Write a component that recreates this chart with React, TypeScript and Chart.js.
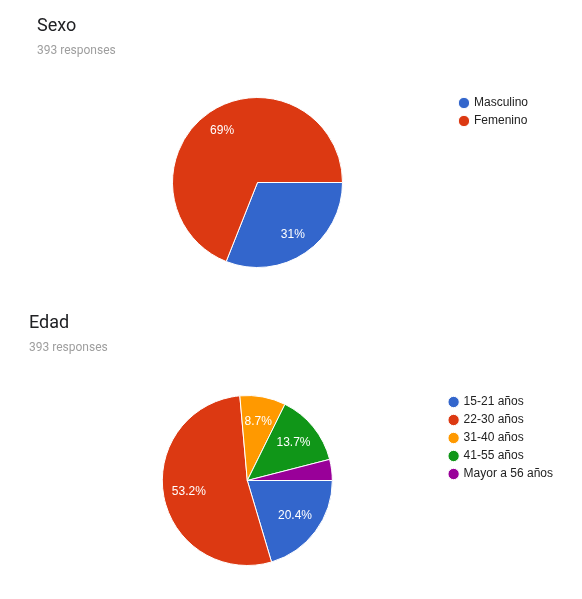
import { useEffect, useRef } from "react";
import { Chart, registerables } from "chart.js";

Chart.register(...registerables);

const responses = 393;

const sexoLabels = ["Masculino", "Femenino"];
const sexoValues = [31, 69];

const edadLabels = ["15-21 años", "22-30 años", "31-40 años", "41-55 años", "Mayor a 56 años"];
const edadValues = [20.4, 53.2, 8.7, 13.7, 4.0];

const palette = ["#3366cc", "#dc3912", "#ff9900", "#109618", "#990099"];

const TITLE_FONT = "Roboto, Arial, sans-serif";
const CHART_FONT = "Arial, 'Liberation Sans', sans-serif";

// percentages inside slices, like google charts
const sliceLabels = {
  id: "sliceLabels",
  afterDatasetsDraw(chart: any, _args: any, opts: any) {
    const ctx = chart.ctx;
    const meta = chart.getDatasetMeta(0);
    const data = chart.data.datasets[0].data as number[];
    const total = data.reduce((a, b) => a + b, 0);
    ctx.save();
    ctx.fillStyle = "#ffffff";
    ctx.font = `12px ${CHART_FONT}`;
    ctx.textAlign = "center";
    ctx.textBaseline = "middle";
    meta.data.forEach((arc: any, i: number) => {
      const frac = data[i] / total;
      if (frac < 0.05) return;
      const { x, y, startAngle, endAngle, outerRadius } = arc.getProps(
        ["x", "y", "startAngle", "endAngle", "outerRadius"],
        true
      );
      const mid = (startAngle + endAngle) / 2;
      const r = outerRadius * (opts.factor ?? 0.7);
      const txt = (Math.round(frac * 1000) / 10).toString() + "%";
      ctx.fillText(txt, x + Math.cos(mid) * r, y + Math.sin(mid) * r);
    });
    ctx.restore();
  },
};

type PieProps = {
  labels: string[];
  values: number[];
  width: number;
  height: number;
  padding: { left: number; right: number; top: number; bottom: number };
  factor: number;
};

const Pie = ({ labels, values, width, height, padding, factor }: PieProps) => {
  const canvasRef = useRef<HTMLCanvasElement | null>(null);

  useEffect(() => {
    if (!canvasRef.current) return;
    const chart = new Chart(canvasRef.current, {
      type: "pie",
      data: {
        labels,
        datasets: [
          {
            data: values,
            backgroundColor: palette.slice(0, values.length),
            borderColor: "#ffffff",
            borderWidth: 1,
            hoverOffset: 0,
          },
        ],
      },
      options: {
        responsive: false,
        animation: false,
        rotation: 90,
        radius: 85,
        layout: { padding },
        plugins: {
          legend: {
            position: "right",
            align: "start",
            labels: {
              usePointStyle: true,
              pointStyle: "circle",
              boxWidth: 8,
              boxHeight: 8,
              padding: 6,
              color: "#222222",
              font: { family: CHART_FONT, size: 12 },
            },
          },
          tooltip: { enabled: false },
          sliceLabels: { factor },
        } as any,
      },
      plugins: [sliceLabels],
    });
    return () => chart.destroy();
  }, []);

  return <canvas ref={canvasRef} width={width} height={height} style={{ display: "block" }} />;
};

const Heading = ({ title, left, top }: { title: string; left: number; top: number }) => (
  <>
    <div
      style={{
        position: "absolute",
        left,
        top,
        fontFamily: TITLE_FONT,
        fontSize: 18,
        lineHeight: "18px",
        color: "#202124",
      }}
    >
      {title}
    </div>
    <div
      style={{
        position: "absolute",
        left,
        top: top + 28,
        fontFamily: TITLE_FONT,
        fontSize: 12,
        lineHeight: "12px",
        color: "#9e9e9e",
      }}
    >
      {responses} responses
    </div>
  </>
);

export default function App() {
  return (
    <div style={{ position: "absolute", left: 0, top: 0, width: 582, height: 599, background: "#fff" }}>
      <div style={{ position: "absolute", left: 0, top: 0 }}>
        <Pie
          labels={sexoLabels}
          values={sexoValues}
          width={582}
          height={290}
          padding={{ left: 61, right: 44, top: 91, bottom: 16 }}
          factor={0.74}
        />
      </div>
      <Heading title="Sexo" left={37} top={16} />
      <div style={{ position: "absolute", left: 0, top: 300 }}>
        <Pie
          labels={edadLabels}
          values={edadValues}
          width={582}
          height={299}
          padding={{ left: 51, right: 19, top: 90, bottom: 28 }}
          factor={0.7}
        />
      </div>
      <Heading title="Edad" left={29} top={313} />
    </div>
  );
}
